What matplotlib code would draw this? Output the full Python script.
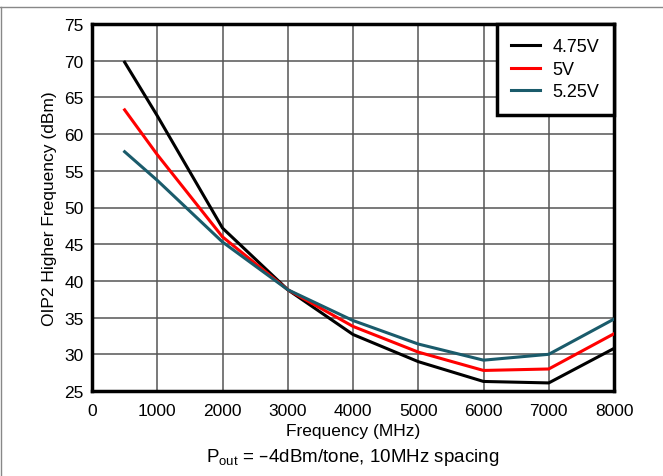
import matplotlib
matplotlib.use('Agg')
import matplotlib.pyplot as plt
from matplotlib.lines import Line2D

plt.rcParams['font.family'] = ['Liberation Sans', 'DejaVu Sans']

freq = [500, 1000, 2000, 3000, 4000, 5000, 6000, 7000, 8000]
oip2_475 = [69.8, 62.5, 47.2, 38.8, 32.7, 29.0, 26.3, 26.1, 30.8]
oip2_500 = [63.3, 57.2, 46.0, 38.8, 33.8, 30.3, 27.8, 28.0, 32.8]
oip2_525 = [57.6, 53.7, 45.3, 38.8, 34.6, 31.4, 29.2, 30.0, 34.8]
labels = ['4.75V', '5V', '5.25V']
colors = ['black', '#ff0000', '#1a5b6b']

fig = plt.figure(figsize=(6.63, 4.77), dpi=100)
ax = fig.add_axes([92 / 663, 1 - 392 / 477, 522 / 663, 367 / 477])

for y, lab, c in zip([oip2_475, oip2_500, oip2_525], labels, colors):
    ax.plot(freq, y, color=c, lw=2.2, label=lab, zorder=3)

ax.set_xlim(0, 8000)
ax.set_ylim(25, 75)
ax.set_xticks(range(0, 8001, 1000))
ax.set_yticks(range(25, 76, 5))
ax.grid(True, color='#555555', lw=1.1)
ax.tick_params(length=0, labelsize=12.5, pad=6)
ax.tick_params(axis='x', pad=9)
for s in ax.spines.values():
    s.set_linewidth(2.5)
ax.set_xlabel('Frequency (MHz)', fontsize=12.5, labelpad=3)
ax.set_ylabel('OIP2 Higher Frequency (dBm)', fontsize=12.5, labelpad=5)

leg = ax.legend(loc='upper right', bbox_to_anchor=(1.0, 1.0), fontsize=13,
                frameon=True, fancybox=False, borderaxespad=0, handlelength=1.6,
                labelspacing=0.3, borderpad=0.8, handletextpad=0.7)
leg.get_frame().set_edgecolor('black')
leg.get_frame().set_linewidth(2.5)
leg.get_frame().set_alpha(1)

fig.text((92 + 614) / 2 / 663, 1 - 458 / 477,
         r'P$_{\mathregular{out}}$ = –4dBm/tone, 10MHz spacing',
         ha='center', va='center', fontsize=13.5)

# page border lines
fig.add_artist(Line2D([0, 1], [1 - 7.5 / 477, 1 - 7.5 / 477], color='#888888', lw=1))
fig.add_artist(Line2D([1 / 663, 1 / 663], [0, 1 - 7.5 / 477], color='#888888', lw=1))

fig.savefig('out.png', dpi=100)
